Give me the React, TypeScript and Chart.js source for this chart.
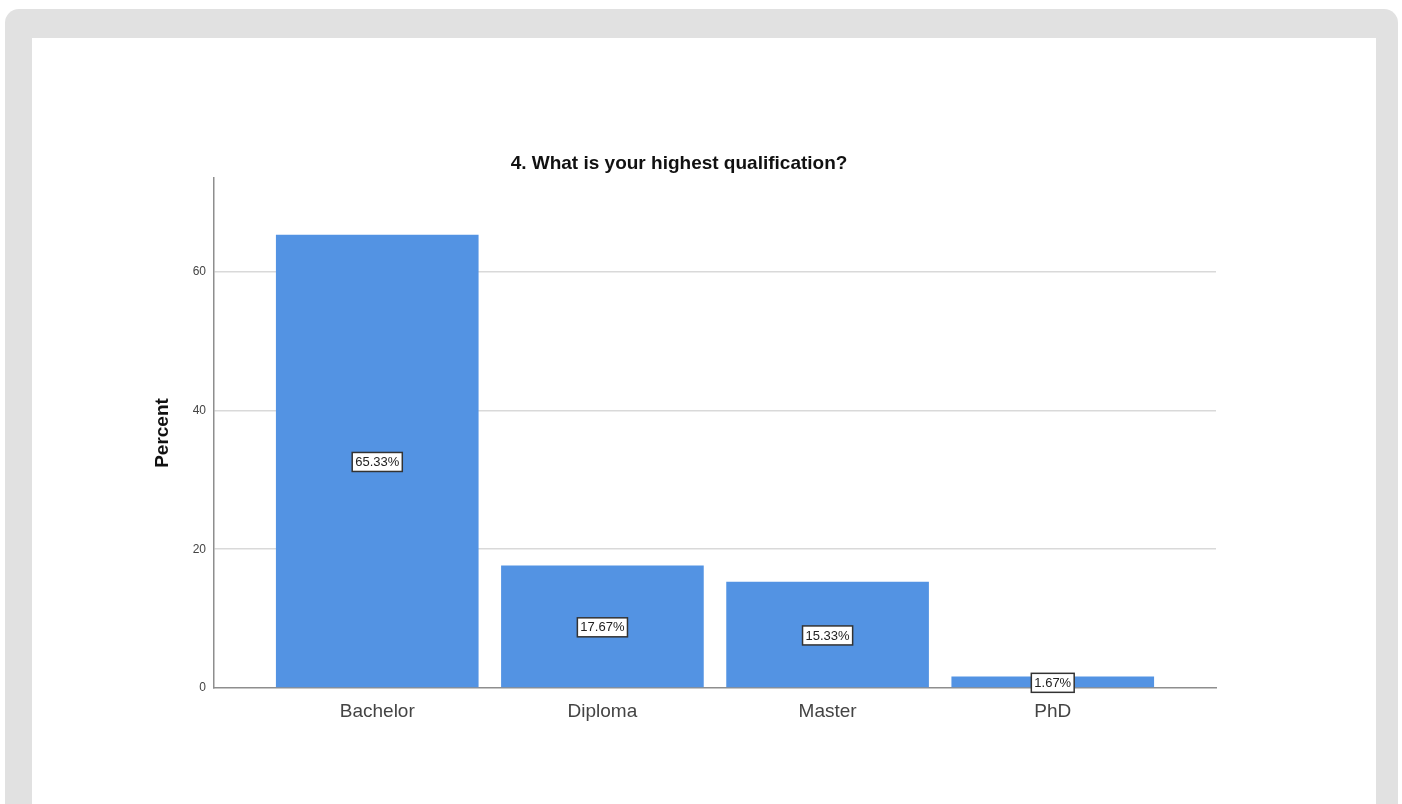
import React, { useEffect, useRef } from "react";
import { Chart, registerables } from "chart.js";

Chart.register(...registerables);

// Survey answers: share of respondents per highest qualification (percent)
const categories: string[] = ["Bachelor", "Diploma", "Master", "PhD"];
const percents: number[] = [65.33, 17.67, 15.33, 1.67];
const yTickValues: number[] = [0, 20, 40, 60];
const chartTitle = "4. What is your highest qualification?";
const yAxisTitle = "Percent";

const BAR_COLOR = "#5393E3";
const AXIS_COLOR = "#8e8e8e";
const GRID_COLOR = "#d9d9d9";
const FONT = "'Liberation Sans', Arial, sans-serif";

// Boxed value labels in the middle of each bar
const valueBoxes = {
  id: "valueBoxes",
  afterDatasetsDraw(chart: any) {
    const { ctx } = chart;
    const meta = chart.getDatasetMeta(0);
    ctx.save();
    ctx.font = `13px ${FONT}`;
    ctx.textAlign = "center";
    ctx.textBaseline = "middle";
    meta.data.forEach((bar: any, i: number) => {
      const text = `${percents[i].toFixed(2)}%`;
      const cx = bar.x;
      const cy = (bar.y + bar.base) / 2 + 1;
      const w = ctx.measureText(text).width + 6;
      const h = 19;
      ctx.fillStyle = "#ffffff";
      ctx.fillRect(cx - w / 2, cy - h / 2, w, h);
      ctx.lineWidth = 1.5;
      ctx.strokeStyle = "#333333";
      ctx.strokeRect(cx - w / 2, cy - h / 2, w, h);
      ctx.fillStyle = "#222222";
      ctx.fillText(text, cx, cy + 0.5);
    });
    ctx.restore();
  },
};

function QualificationChart() {
  const canvasRef = useRef<HTMLCanvasElement | null>(null);

  useEffect(() => {
    if (!canvasRef.current) return;
    const chart = new Chart(canvasRef.current, {
      type: "bar",
      data: {
        datasets: [
          {
            label: yAxisTitle,
            data: percents.map((v, i) => ({ x: i, y: v })),
            backgroundColor: BAR_COLOR,
            borderWidth: 0,
            categoryPercentage: 1,
            barPercentage: 0.9,
          },
        ],
      },
      options: {
        animation: false,
        responsive: false,
        maintainAspectRatio: false,
        layout: { padding: { left: 110, right: 160, top: 0, bottom: 76 } },
        plugins: {
          legend: { display: false },
          tooltip: { enabled: false },
          title: {
            display: true,
            text: chartTitle,
            color: "#111111",
            font: { family: FONT, size: 19, weight: "bold", lineHeight: 1.2 },
            padding: { top: 114.6, bottom: 2.6 },
          },
        },
        scales: {
          x: {
            type: "linear",
            offset: false,
            min: -0.725,
            max: 3.725,
            afterFit: (scale: any) => {
              scale.height = 40;
            },
            grid: { display: false, drawTicks: false, offset: false },
            border: { display: true, color: AXIS_COLOR, width: 1.5 },
            ticks: {
              stepSize: 1,
              includeBounds: false,
              autoSkip: false,
              maxRotation: 0,
              padding: 12,
              color: "#444444",
              font: { family: FONT, size: 19 },
              callback: (v: any) => {
                const idx = Number(v);
                return Number.isInteger(idx) && categories[idx] ? categories[idx] : "";
              },
            },
          },
          y: {
            type: "linear",
            min: 0,
            max: 73.5,
            afterFit: (scale: any) => {
              scale.width = 72;
            },
            afterBuildTicks: (scale: any) => {
              scale.ticks = yTickValues.map((value) => ({ value }));
            },
            grid: {
              drawTicks: false,
              lineWidth: 1.5,
              color: (c: any) => (c.tick && c.tick.value === 0 ? "rgba(0,0,0,0)" : GRID_COLOR),
            },
            border: { display: true, color: AXIS_COLOR, width: 1.5 },
            ticks: {
              padding: 8,
              color: "#444444",
              font: { family: FONT, size: 12 },
            },
            title: {
              display: true,
              text: yAxisTitle,
              color: "#111111",
              font: { family: FONT, size: 19, weight: "bold", lineHeight: 1.2 },
              padding: { top: 9.6, bottom: 0 },
            },
          },
        },
      },
      plugins: [valueBoxes],
    } as any);
    return () => chart.destroy();
  }, []);

  return (
    <canvas
      ref={canvasRef}
      width={1344}
      height={766}
      style={{ display: "block", width: 1344, height: 766 }}
    />
  );
}

export default function App() {
  return (
    <div>
      <div
        style={{
          position: "fixed",
          left: 5,
          top: 9,
          width: 1393,
          height: 900,
          background: "#e1e1e1",
          borderRadius: 14,
        }}
      />
      <div
        style={{
          position: "fixed",
          left: 32,
          top: 38,
          width: 1344,
          height: 800,
          background: "#ffffff",
        }}
      >
        <QualificationChart />
      </div>
    </div>
  );
}
